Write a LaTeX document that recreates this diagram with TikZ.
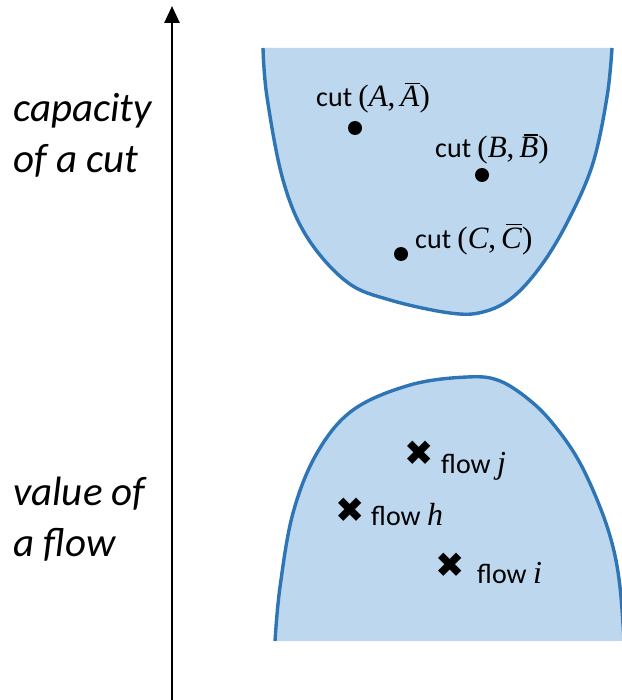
\documentclass[tikz,border=0pt]{standalone}
\usepackage{fontspec}
\setmainfont{Carlito}
\newfontfamily\symfont{DejaVu Sans}
\newfontfamily\mfont{Liberation Serif}
\newcommand{\mv}[1]{{\mfont\fontsize{32}{34}\selectfont\itshape #1}}
\newcommand{\barred}[1]{\setbox0\hbox{#1}\rlap{\kern0.22\wd0\raisebox{\dimexpr\ht0+2.2pt\relax}{\vrule height 1.5pt depth 0pt width 0.78\wd0}}\box0}
\newcommand{\mpair}[2]{{\mfont\fontsize{31}{34}\selectfont(\textit{#1},\kern5pt\barred{\textit{#2}})}}
\usetikzlibrary{arrows.meta}
\definecolor{regfill}{HTML}{BDD7EE}
\definecolor{regline}{HTML}{2E75B6}
\tikzset{
  region/.style={fill=regfill},
  border/.style={draw=regline, line width=3.4pt, line join=round},
  dotmark/.style={circle, fill=black, inner sep=0pt, minimum size=14pt},
  crossmark/.style={inner sep=0pt, font=\symfont\fontsize{35}{35}\selectfont},
  inlabel/.style={inner sep=0pt, anchor=base west, font=\fontsize{28}{34}\selectfont},
  sidelabel/.style={inner sep=0pt, anchor=base west, font=\fontsize{41}{48}\selectfont\itshape},
}
\begin{document}
\begin{tikzpicture}[x=1pt, y=-1pt]
\useasboundingbox (0,0) rectangle (621,700);
% axis
\coordinate (axbot) at (172,700);
\coordinate (axtop) at (172,6);
\draw[line width=2.6pt, -{Triangle[width=15pt,length=17pt]}] (axbot) -- (axtop);

% top region (cuts)
\fill[region] plot[smooth, tension=0.6] coordinates {(263,48) (267,97) (283,180) (307,237) (347,282) (390,300) (450,313) (483,312) (513,297) (543,263) (570,217) (593,163) (607,97) (612,48)} -- cycle;
\draw[border] plot[smooth, tension=0.6] coordinates {(263,48) (267,97) (283,180) (307,237) (347,282) (390,300) (450,313) (483,312) (513,297) (543,263) (570,217) (593,163) (607,97) (612,48)};

% bottom region (flows)
\fill[region] plot[smooth, tension=0.6] coordinates {(275,641) (280,587) (293,513) (317,453) (353,410) (410,385) (467,377) (500,381) (533,403) (558,430) (580,463) (600,507) (613,547) (620,587) (624,640)} -- (621,641) -- cycle;
\draw[border] plot[smooth, tension=0.6] coordinates {(275,641) (280,587) (293,513) (317,453) (353,410) (410,385) (467,377) (500,381) (533,403) (558,430) (580,463) (600,507) (613,547) (620,587) (624,640)};

% cuts
\node[dotmark] (dA) at (355,128) {};
\node[dotmark] (dB) at (482,175) {};
\node[dotmark] (dC) at (401,254) {};
\node[inlabel] (lA) at (316,107) {cut \mpair{A}{A}};
\node[inlabel] (lB) at (435,158) {cut \mpair{B}{B}};
\node[inlabel] (lC) at (415,248) {cut \mpair{C}{C}};

% flows
\node[crossmark] (xj) at (419,453) {✖};
\node[crossmark] (xh) at (350,510) {✖};
\node[crossmark] (xi) at (450,565) {✖};
\node[inlabel] (lj) at (441,473) {flow \mv{j}};
\node[inlabel] (lh) at (371,525) {flow \mv{h}};
\node[inlabel] (li) at (477,583) {flow \mv{i}};

% side labels
\node[sidelabel] (s1) at (13,122) {capacity};
\node[sidelabel] (s2) at (13,173) {of a cut};
\node[sidelabel] (s3) at (13,505) {value of};
\node[sidelabel] (s4) at (13,556) {a flow};
\end{tikzpicture}
\end{document}
